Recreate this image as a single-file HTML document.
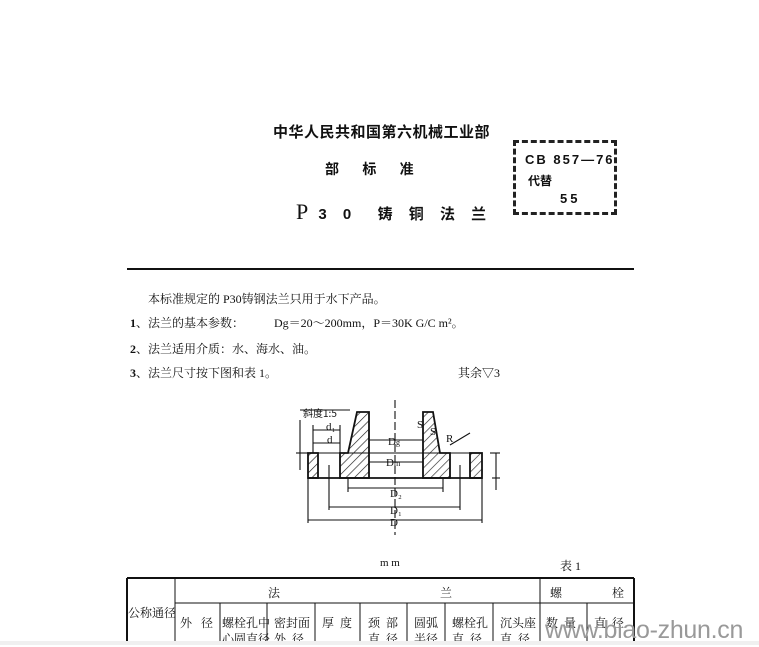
<!DOCTYPE html>
<html><head><meta charset="utf-8"><style>
html,body{margin:0;padding:0;background:#fff;}
body{width:759px;height:645px;position:relative;overflow:hidden;font-family:"Liberation Serif","Noto Serif CJK SC","Noto Sans CJK SC",serif;color:#111;}
.a{position:absolute;white-space:nowrap;}
.b{font-family:"Liberation Sans","Noto Sans CJK SC",sans-serif;font-weight:bold;}
.t{font-size:12px;}
</style></head><body>
<div class="a b" style="left:273px;top:121px;font-size:15px;letter-spacing:0.5px">中华人民共和国第六机械工业部</div>
<div class="a b" style="left:325px;top:159px;font-size:14px;word-spacing:0">部&nbsp;&nbsp;&nbsp;&nbsp;&nbsp;&nbsp;标&nbsp;&nbsp;&nbsp;&nbsp;&nbsp;&nbsp;准</div>
<div class="a" style="left:296px;top:199px;font-size:22px;"><span style="font-family:'Liberation Serif',serif">P</span><span class="b" style="font-size:15px;letter-spacing:6px"> 3 0&nbsp; 铸 铜 法 兰</span></div>
<div class="a" style="left:513px;top:140px;width:104px;height:75px;border:3px dashed #222;box-sizing:border-box"></div>
<div class="a b" style="left:525px;top:152px;font-size:13px;letter-spacing:2px">CB 857—76</div>
<div class="a b" style="left:528px;top:172px;font-size:12px">代替</div>
<div class="a b" style="left:560px;top:191px;font-size:13px;letter-spacing:3px">55</div>
<div class="a" style="left:127px;top:268px;width:507px;height:2px;background:#111"></div>
<div class="a t" style="left:148px;top:290px">本标准规定的 P30铸钢法兰只用于水下产品。</div>
<div class="a t" style="left:130px;top:314px"><b>1</b>、法兰的基本参数：&nbsp;&nbsp;&nbsp;&nbsp;&nbsp;&nbsp;&nbsp;&nbsp;&nbsp;&nbsp;Dg＝20～200mm，P＝30K G/C m²。</div>
<div class="a t" style="left:130px;top:340px"><b>2</b>、法兰适用介质：水、海水、油。</div>
<div class="a t" style="left:130px;top:364px"><b>3</b>、法兰尺寸按下图和表 1。</div>
<div class="a t" style="left:458px;top:364px">其余▽3</div>
<svg class="a" style="left:0;top:0" width="759" height="645">
<defs><pattern id="h" width="6" height="6" patternUnits="userSpaceOnUse" patternTransform="rotate(45)"><line x1="0" y1="0" x2="0" y2="6" stroke="#222" stroke-width="1.3"/></pattern></defs>
<g stroke="#111" stroke-width="1.8" fill="url(#h)">
<rect x="308" y="453" width="10" height="25"/>
<path d="M340 453 L348 453 L357 412 L369 412 L369 478 L340 478 Z"/>
<path d="M423 412 L433 412 L440 453 L450 453 L450 478 L423 478 Z"/>
<rect x="470" y="453" width="12" height="25"/>
</g>
<g stroke="#111" stroke-width="1.1" fill="none">
<line x1="308" y1="478" x2="482" y2="478" stroke-width="1.8"/>
<line x1="308" y1="453" x2="482" y2="453"/>
<line x1="395" y1="400" x2="395" y2="535" stroke-dasharray="8,3"/>
<line x1="348" y1="488" x2="443" y2="488"/><line x1="348" y1="478" x2="348" y2="492"/><line x1="443" y1="478" x2="443" y2="492"/>
<line x1="329" y1="507" x2="460" y2="507"/><line x1="329" y1="465" x2="329" y2="510"/><line x1="460" y1="465" x2="460" y2="510"/>
<line x1="308" y1="520" x2="482" y2="520"/><line x1="308" y1="478" x2="308" y2="523"/><line x1="482" y1="478" x2="482" y2="523"/>
<line x1="369" y1="440" x2="423" y2="440"/><line x1="369" y1="462" x2="423" y2="462"/>
<line x1="313" y1="430" x2="340" y2="430"/><line x1="313" y1="443" x2="340" y2="443"/>
<line x1="313" y1="425" x2="313" y2="453"/><line x1="340" y1="425" x2="340" y2="453"/>
<line x1="300" y1="420" x2="300" y2="470"/><line x1="296" y1="453" x2="308" y2="453"/>
<line x1="300" y1="410" x2="350" y2="410"/>
<line x1="490" y1="453" x2="500" y2="453"/><line x1="492" y1="478" x2="500" y2="478"/><line x1="496" y1="453" x2="496" y2="490"/>
<line x1="450" y1="445" x2="470" y2="433"/>
</g>
<g font-family="Liberation Serif,serif" font-size="11" fill="#111">
<text x="303" y="417" font-size="10" font-family="Noto Sans CJK SC,sans-serif">斜度1:5</text>
<text x="326" y="430">d₁</text><text x="327" y="443">d</text>
<text x="388" y="445">D<tspan font-size="8">g</tspan></text>
<text x="386" y="466">D<tspan font-size="8">m</tspan></text>
<text x="390" y="497">D₂</text><text x="390" y="514">D₁</text><text x="390" y="526">D</text>
<text x="417" y="428">S</text><text x="430" y="435">S</text><text x="446" y="442">R</text>
</g>
<!-- table -->
<g stroke="#111" stroke-width="1" fill="none">
<line x1="127" y1="578" x2="634" y2="578" stroke-width="2"/>
<line x1="127" y1="578" x2="127" y2="645" stroke-width="2"/>
<line x1="634" y1="578" x2="634" y2="645" stroke-width="2"/>
<line x1="175" y1="578" x2="175" y2="645"/>
<line x1="540" y1="578" x2="540" y2="645"/>
<line x1="175" y1="603" x2="634" y2="603"/>
<line x1="220" y1="603" x2="220" y2="645"/><line x1="267" y1="603" x2="267" y2="645"/>
<line x1="315" y1="603" x2="315" y2="645"/><line x1="360" y1="603" x2="360" y2="645"/>
<line x1="407" y1="603" x2="407" y2="645"/><line x1="445" y1="603" x2="445" y2="645"/>
<line x1="493" y1="603" x2="493" y2="645"/><line x1="587" y1="603" x2="587" y2="645"/>
</g>
</svg>
<div class="a t" style="left:380px;top:557px;font-size:11px">m m</div>
<div class="a t" style="left:560px;top:557px">表 1</div>
<div class="a t" style="left:268px;top:584px">法</div>
<div class="a t" style="left:440px;top:584px">兰</div>
<div class="a t" style="left:550px;top:584px">螺</div>
<div class="a t" style="left:612px;top:584px">栓</div>
<div class="a t" style="left:128px;top:604px">公称通径</div>
<div class="a t" style="left:180px;top:614px">外&nbsp;&nbsp;&nbsp;径</div>
<div class="a t" style="left:222px;top:614px">螺栓孔中</div>
<div class="a t" style="left:222px;top:630px">心圆直径</div>
<div class="a t" style="left:274px;top:614px">密封面</div>
<div class="a t" style="left:274px;top:630px">外&nbsp;&nbsp;径</div>
<div class="a t" style="left:322px;top:614px">厚&nbsp;&nbsp;度</div>
<div class="a t" style="left:368px;top:614px">颈&nbsp;&nbsp;部</div>
<div class="a t" style="left:368px;top:630px">直&nbsp;&nbsp;径</div>
<div class="a t" style="left:414px;top:614px">圆弧</div>
<div class="a t" style="left:414px;top:630px">半径</div>
<div class="a t" style="left:452px;top:614px">螺栓孔</div>
<div class="a t" style="left:452px;top:630px">直&nbsp;&nbsp;径</div>
<div class="a t" style="left:500px;top:614px">沉头座</div>
<div class="a t" style="left:500px;top:630px">直&nbsp;&nbsp;径</div>
<div class="a t" style="left:546px;top:614px">数&nbsp;&nbsp;量</div>
<div class="a t" style="left:594px;top:614px">直&nbsp;&nbsp;径</div>
<div class="a" style="left:545px;top:616px;font-family:'Liberation Sans',sans-serif;font-size:25px;color:#999;letter-spacing:-0.3px">www.biao-zhun.cn</div>
<div class="a" style="left:0;top:641px;width:759px;height:4px;background:#f0f0f0"></div>
</body></html>
